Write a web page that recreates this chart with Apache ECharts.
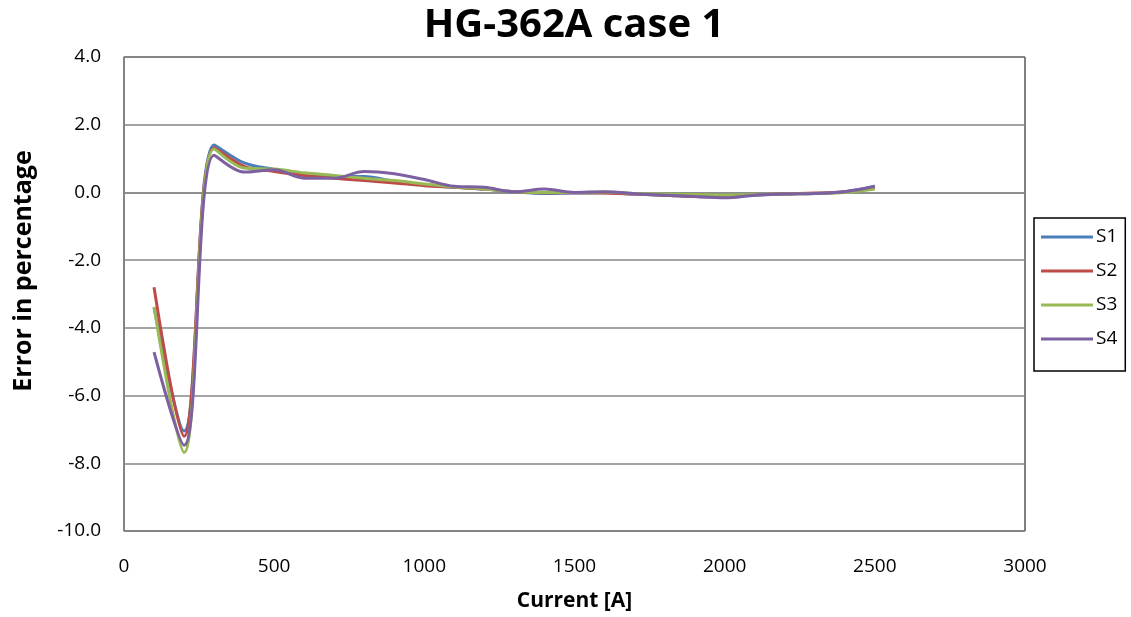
<!DOCTYPE html>
<html>
<head>
<meta charset="utf-8">
<script src="https://cdn.jsdelivr.net/npm/echarts@6/dist/echarts.min.js"></script>
<style>html,body{margin:0;padding:0;background:#fff}#c{width:1131px;height:617px}</style>
</head>
<body>
<div id="c"></div>
<script>
const currents = [100,200,300,400,500,600,700,800,900,1000,1100,1200,1300,1400,1500,1600,1700,1800,1900,2000,2100,2200,2300,2400,2500];
const s1 = [-3.40,-7.05,1.40,0.87,0.68,0.52,0.47,0.47,0.33,0.22,0.15,0.10,0.02,-0.03,-0.02,-0.01,-0.05,-0.08,-0.12,-0.14,-0.08,-0.05,-0.03,0.02,0.18];
const s2 = [-2.80,-7.20,1.32,0.77,0.62,0.50,0.42,0.35,0.28,0.20,0.15,0.10,0.02,-0.01,-0.01,-0.02,-0.05,-0.08,-0.12,-0.13,-0.07,-0.04,-0.02,0.02,0.14];
const s3 = [-3.38,-7.68,1.28,0.72,0.69,0.58,0.50,0.42,0.35,0.25,0.16,0.10,0.02,0.00,0.00,0.01,-0.03,-0.05,-0.06,-0.08,-0.06,-0.05,-0.03,0.00,0.10];
const s4 = [-4.72,-7.47,1.10,0.60,0.67,0.42,0.42,0.62,0.55,0.38,0.18,0.15,0.02,0.10,0.00,0.02,-0.04,-0.08,-0.12,-0.16,-0.08,-0.05,-0.03,0.02,0.18];
const seriesNames = ['S1','S2','S3','S4'];
const colors = ['#4A7EBB','#BE4B48','#98B954','#7D60A0'];
const title = 'HG-362A case 1';
const xName = 'Current [A]';
const yName = 'Error in percentage';

const font = '"Open Sans", sans-serif';
const chart = echarts.init(document.getElementById('c'), null, {renderer:'canvas'});
const all = [s1,s2,s3,s4];
chart.setOption({
  animation:false,
  color: colors,
  title:{text:title,left:569,textAlign:'center',top:1,textStyle:{fontFamily:font,fontSize:40,fontWeight:'bold',color:'#000'}},
  grid:{left:124,top:57,right:106,bottom:86,show:true,borderColor:'#000',borderWidth:1,backgroundColor:'transparent'},
  legend:{
    orient:'vertical',left:1034,top:218,
    data:seriesNames,
    icon:'rect',itemWidth:52,itemHeight:3,itemGap:14,
    padding:[9,8,22,7],
    borderColor:'#000',borderWidth:1.5,
    textStyle:{fontFamily:font,fontSize:19,color:'#000',lineHeight:20,padding:[0,0,0,-2]}
  },
  xAxis:{type:'value',min:0,max:3000,interval:500,
    name:xName,nameLocation:'middle',nameGap:60,
    nameTextStyle:{fontFamily:font,fontSize:21,fontWeight:'bold',color:'#000'},
    axisLine:{show:true,lineStyle:{color:'#868686',width:1.5}},
    axisTick:{show:false},
    axisLabel:{fontFamily:font,fontSize:19,color:'#000',margin:26,formatter:v=>String(v)},
    splitLine:{show:false}
  },
  yAxis:{type:'value',min:-10,max:4,interval:2,
    name:yName,nameLocation:'middle',nameGap:88,
    nameTextStyle:{fontFamily:font,fontSize:25,fontWeight:'bold',color:'#000',padding:[0,0,0,46]},
    axisLine:{show:true,lineStyle:{color:'#868686',width:1.5}},
    axisTick:{show:false},
    axisLabel:{fontFamily:font,fontSize:19,color:'#000',margin:23,formatter:v=>v.toFixed(1)},
    splitLine:{show:true,lineStyle:{color:'#868686',width:1.5}}
  },
  series: all.map((arr,i)=>({
    name:seriesNames[i],type:'line',smooth:0.35,symbol:'none',
    lineStyle:{width:3,color:colors[i]},
    data:currents.map((x,j)=>[x,arr[j]])
  }))
});
</script>
</body>
</html>
